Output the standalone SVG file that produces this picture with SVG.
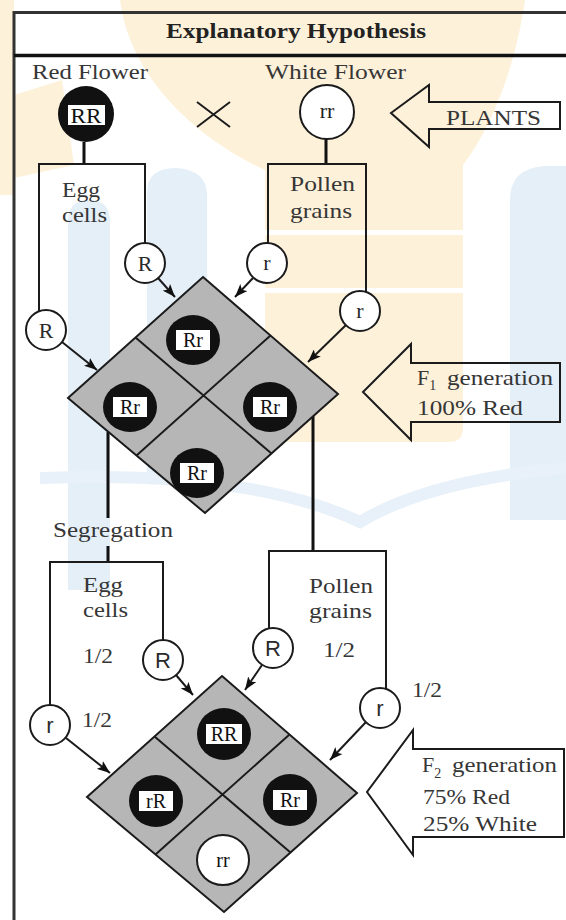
<svg xmlns="http://www.w3.org/2000/svg" width="566" height="920" viewBox="0 0 566 920">
  <defs>
    <style>
      .ln{fill:none;stroke:#1b1b1b;stroke-width:2}
      .stem{fill:none;stroke:#111;stroke-width:3}
      .arr{fill:none;stroke:#1b1b1b;stroke-width:2;marker-end:url(#ah)}
      .dia{fill:#b6b6b6;stroke:#1b1b1b;stroke-width:2}
      .gam{fill:#fff;stroke:#1b1b1b;stroke-width:2}
      .dom{fill:#111}
      .tag{fill:#fff}
      .serif{font-family:"Liberation Serif","Times New Roman",serif}
      .sans{font-family:"Liberation Sans",Arial,sans-serif}
      .lab{font-size:22px;fill:#363636}
      .g{font-size:22px;fill:#2a2a2a;text-anchor:middle}
      .cell{font-size:20px;fill:#111;text-anchor:middle}
      .wy{fill:#fdf1da}
      .wb{fill:#e4eff8}
    </style>
    <marker id="ah" viewBox="0 0 13 10" refX="13" refY="5" markerWidth="13" markerHeight="10" markerUnits="userSpaceOnUse" orient="auto">
      <path d="M0,0 L13,5 L0,10 L3,5 Z" fill="#111"/>
    </marker>
  </defs>

  <!-- faint background emblem -->
  <g id="backdrop">
    <rect class="wy" x="0" y="0" width="14" height="195"/>
    <path class="wy" d="M14,95 L62,80 L74,165 L14,178 Z"/>
    <path class="wy" d="M120,0 H525 C515,70 490,130 463,165 V428 Q463,442 449,442 H279 Q265,442 265,428 V170 C200,140 130,80 120,0 Z"/>
    <rect x="265" y="230" width="200" height="5" fill="#fff"/>
    <rect x="265" y="288" width="200" height="5" fill="#fff"/>
    <path class="wb" d="M68,590 V222 Q68,200 89,200 Q110,200 110,222 V590 Z"/>
    <path class="wb" d="M147,480 V192 Q147,168 176,168 Q207,170 207,195 V480 Z"/>
    <path class="wb" d="M510,520 V200 Q510,168 545,166 H566 V520 Z"/>
    <path d="M40,478 Q250,470 360,522 Q430,480 566,468" fill="none" stroke="#e8f1f9" stroke-width="12"/>
  </g>

  <!-- frame and heading -->
  <g id="frame">
    <path d="M14,920 V12.5 H566" fill="none" stroke="#333" stroke-width="3"/>
    <line x1="14" y1="55.5" x2="566" y2="55.5" stroke="#111" stroke-width="3.5"/>
    <text class="serif" x="296" y="38" font-size="20" font-weight="bold" text-anchor="middle" textLength="260" lengthAdjust="spacingAndGlyphs" fill="#222">Explanatory Hypothesis</text>
  </g>

  <!-- connectors -->
  <g id="connectors">
    <path class="stem" d="M84,142 V164"/>
    <path class="stem" d="M326,139 V164"/>
    <path class="ln" d="M39,311 V164 H145 V243"/>
    <path class="ln" d="M268,243 V164 H366 V292"/>
    <path class="arr" d="M158,278 L175,297"/>
    <path class="arr" d="M253,278 L235,297"/>
    <path class="arr" d="M62,342 L97,370"/>
    <path class="arr" d="M346,325 L308,362"/>
    <path class="stem" d="M108,432 V518 M108,546 V562"/>
    <path class="stem" d="M313,416 V551"/>
    <path class="ln" d="M50,705 V562 H163 V640"/>
    <path class="ln" d="M269,628 V551 H386 V689"/>
    <path class="arr" d="M66,738 L110,773"/>
    <path class="arr" d="M176,675 L193,695"/>
    <path class="arr" d="M262,665 L245,690"/>
    <path class="arr" d="M366,722 L330,760"/>
  </g>

  <!-- parents -->
  <g id="label-red"><text class="serif lab" x="32" y="79" textLength="116" lengthAdjust="spacingAndGlyphs">Red Flower</text></g>
  <g id="label-white"><text class="serif lab" x="265" y="79" textLength="141" lengthAdjust="spacingAndGlyphs">White Flower</text></g>
  <g id="parent-red" transform="translate(86,114)">
    <circle class="dom" r="28"/>
    <rect class="tag" x="-18" y="-9" width="37" height="20"/>
    <text class="serif cell" y="9" font-size="22" textLength="31" lengthAdjust="spacingAndGlyphs">RR</text>
  </g>
  <g id="cross"><path class="ln" d="M197,102 L230,127 M197,127 L230,102"/></g>
  <g id="parent-white" transform="translate(327,112)">
    <circle class="gam" r="27"/>
    <text class="serif" y="6" font-size="22" text-anchor="middle" fill="#222">rr</text>
  </g>
  <g id="plants-arrow">
    <path class="ln" d="M429,102 H560 V129 H429 V147 L391,113 L429,85 Z" stroke-width="2.5"/>
    <text class="serif lab" x="446" y="125" textLength="95" lengthAdjust="spacingAndGlyphs">PLANTS</text>
  </g>

  <!-- first-cross gametes -->
  <g id="egg1-label">
    <text class="serif lab" x="62" y="197" textLength="38" lengthAdjust="spacingAndGlyphs">Egg</text>
    <text class="serif lab" x="62" y="222" textLength="45" lengthAdjust="spacingAndGlyphs">cells</text>
  </g>
  <g id="pollen1-label">
    <text class="serif lab" x="290" y="191" textLength="65" lengthAdjust="spacingAndGlyphs">Pollen</text>
    <text class="serif lab" x="290" y="218" textLength="62" lengthAdjust="spacingAndGlyphs">grains</text>
  </g>
  <g id="egg1-a" transform="translate(46,330)"><circle class="gam" r="20"/><text class="serif g" y="8">R</text></g>
  <g id="egg1-b" transform="translate(145,263)"><circle class="gam" r="20"/><text class="serif g" y="8">R</text></g>
  <g id="pollen1-a" transform="translate(267,263)"><circle class="gam" r="20"/><text class="serif g" y="7">r</text></g>
  <g id="pollen1-b" transform="translate(360,311)"><circle class="gam" r="20"/><text class="serif g" y="7">r</text></g>

  <!-- F1 Punnett square -->
  <g id="f1-square">
    <polygon class="dia" points="203,277 338,394 205,513 68,398"/>
    <path class="ln" d="M135.5,337.5 L271.5,453.5 M270.5,335.5 L136.5,455.5"/>
    <g transform="translate(193,340)"><ellipse class="dom" rx="27" ry="25"/><rect class="tag" x="-17" y="-10" width="34" height="20"/><text class="serif cell" y="7">Rr</text></g>
    <g transform="translate(130,407)"><ellipse class="dom" rx="27" ry="25"/><rect class="tag" x="-17" y="-10" width="34" height="20"/><text class="serif cell" y="7">Rr</text></g>
    <g transform="translate(270,407)"><ellipse class="dom" rx="27" ry="25"/><rect class="tag" x="-17" y="-10" width="34" height="20"/><text class="serif cell" y="7">Rr</text></g>
    <g transform="translate(197,473)"><ellipse class="dom" rx="27" ry="25"/><rect class="tag" x="-17" y="-10" width="34" height="20"/><text class="serif cell" y="7">Rr</text></g>
  </g>
  <g id="f1-arrow">
    <path class="ln" d="M411,363 H560 V422 H411 V440 L363,392 L411,344 Z" stroke-width="2.5"/>
    <text class="serif lab" x="417" y="385">F<tspan dy="5" font-size="14">1</tspan></text>
    <text class="serif lab" x="447" y="385" textLength="106" lengthAdjust="spacingAndGlyphs">generation</text>
    <text class="serif lab" x="417" y="415" textLength="106" lengthAdjust="spacingAndGlyphs">100% Red</text>
  </g>

  <!-- segregation -->
  <g id="segregation"><text class="serif lab" x="53" y="537" textLength="120" lengthAdjust="spacingAndGlyphs">Segregation</text></g>
  <g id="egg2-label">
    <text class="serif lab" x="83" y="592" textLength="40" lengthAdjust="spacingAndGlyphs">Egg</text>
    <text class="serif lab" x="83" y="617" textLength="45" lengthAdjust="spacingAndGlyphs">cells</text>
    <text class="serif lab" x="83" y="663" textLength="30" lengthAdjust="spacingAndGlyphs">1/2</text>
    <text class="serif lab" x="82" y="727" textLength="30" lengthAdjust="spacingAndGlyphs">1/2</text>
  </g>
  <g id="pollen2-label">
    <text class="serif lab" x="309" y="593" textLength="64" lengthAdjust="spacingAndGlyphs">Pollen</text>
    <text class="serif lab" x="309" y="618" textLength="63" lengthAdjust="spacingAndGlyphs">grains</text>
    <text class="serif lab" x="323" y="657" textLength="32" lengthAdjust="spacingAndGlyphs">1/2</text>
    <text class="serif lab" x="412" y="697" textLength="30" lengthAdjust="spacingAndGlyphs">1/2</text>
  </g>
  <g id="egg2-a" transform="translate(50,725)"><circle class="gam" r="20"/><text class="sans g" y="8">r</text></g>
  <g id="egg2-b" transform="translate(163,660)"><circle class="gam" r="20"/><text class="sans g" y="8">R</text></g>
  <g id="pollen2-a" transform="translate(273,648)"><circle class="gam" r="20"/><text class="sans g" y="8">R</text></g>
  <g id="pollen2-b" transform="translate(380,708)"><circle class="gam" r="20"/><text class="sans g" y="8">r</text></g>

  <!-- F2 Punnett square -->
  <g id="f2-square">
    <polygon class="dia" points="222,676 357,793 224,912 87,797"/>
    <path class="ln" d="M154.5,736.5 L290.5,852.5 M289.5,734.5 L155.5,854.5"/>
    <g transform="translate(224,734)"><ellipse class="dom" rx="27" ry="26"/><rect class="tag" x="-18" y="-10" width="36" height="20"/><text class="serif cell" y="7">RR</text></g>
    <g transform="translate(156,801)"><ellipse class="dom" rx="27" ry="26"/><rect class="tag" x="-17" y="-10" width="34" height="20"/><text class="serif cell" y="7">rR</text></g>
    <g transform="translate(290,800)"><ellipse class="dom" rx="27" ry="26"/><rect class="tag" x="-17" y="-10" width="34" height="20"/><text class="serif cell" y="7">Rr</text></g>
    <g transform="translate(223,860)"><ellipse class="gam" rx="26" ry="25" stroke-width="1.5"/><text class="serif cell" y="7">rr</text></g>
  </g>
  <g id="f2-arrow">
    <path class="ln" d="M413,749 H564 V837 H413 V855 L367,792 L413,730 Z" stroke-width="2.5"/>
    <text class="serif lab" x="422" y="772">F<tspan dy="6" font-size="14">2</tspan></text>
    <text class="serif lab" x="452" y="772" textLength="105" lengthAdjust="spacingAndGlyphs">generation</text>
    <text class="serif lab" x="423" y="804" textLength="87" lengthAdjust="spacingAndGlyphs">75% Red</text>
    <text class="serif lab" x="423" y="831" textLength="114" lengthAdjust="spacingAndGlyphs">25% White</text>
  </g>
</svg>
